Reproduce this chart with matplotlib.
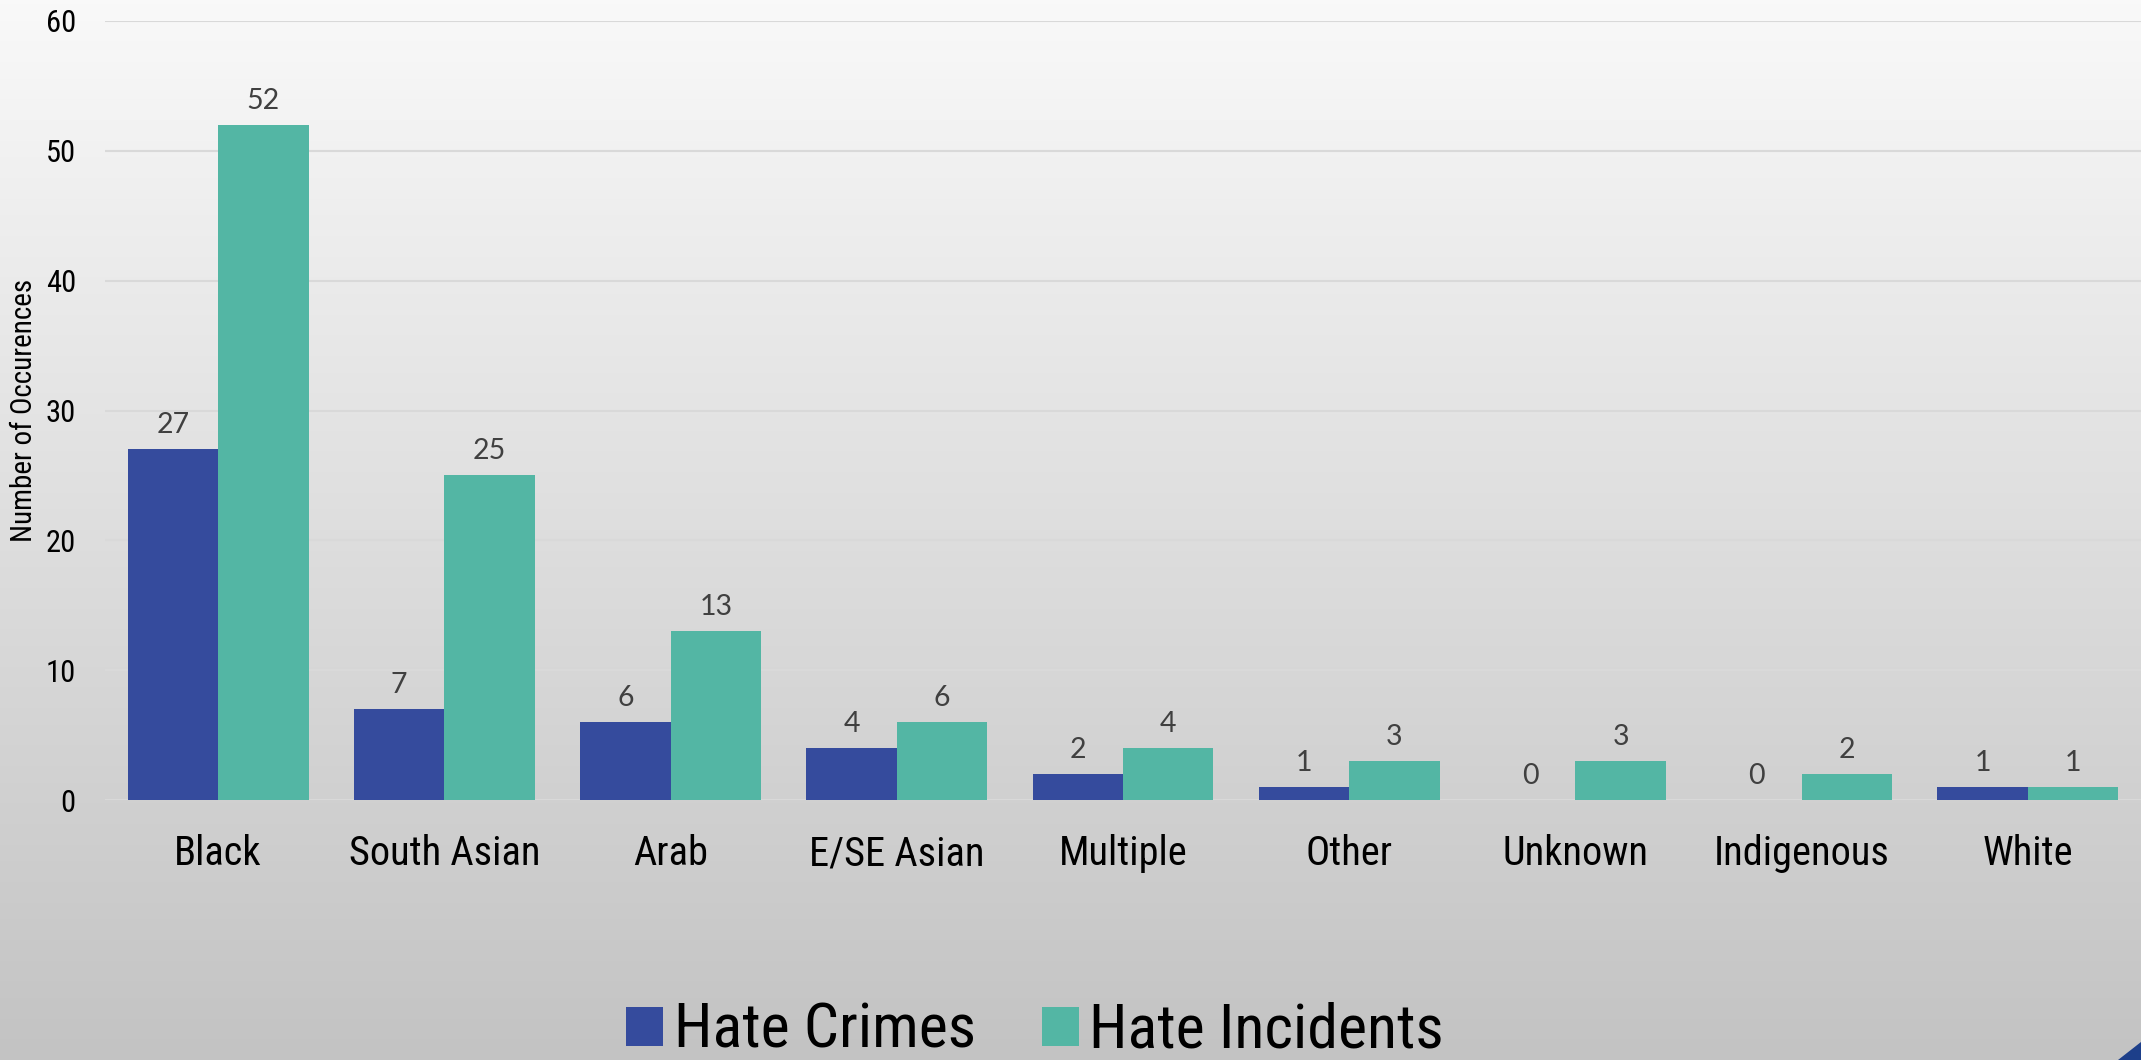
import numpy as np
import matplotlib
matplotlib.use("Agg")
import matplotlib.pyplot as plt
from matplotlib import font_manager
from matplotlib.patches import Polygon

categories = ["Black", "South Asian", "Arab", "E/SE Asian", "Multiple",
              "Other", "Unknown", "Indigenous", "White"]
hate_crimes = [27, 7, 6, 4, 2, 1, 0, 0, 1]
hate_incidents = [52, 25, 13, 6, 4, 3, 3, 2, 1]
series_names = ["Hate Crimes", "Hate Incidents"]
y_ticks = [0, 10, 20, 30, 40, 50, 60]
y_label = "Number of Occurences"

names = sorted({f.name for f in font_manager.fontManager.ttflist})
narrow = None
for cand in ["Liberation Sans Narrow", "Arial Narrow", "Roboto Condensed",
             "Open Sans Condensed", "Noto Sans Condensed"]:
    if cand in names:
        narrow = cand
        break
if narrow is None:
    narrow = "Liberation Sans"
    SF = 0.86
else:
    SF = 0.97
label_font = "Lato" if "Lato" in names else "DejaVu Sans"

C_BLUE = "#354B9D"
C_TEAL = "#53B6A4"

fig = plt.figure(figsize=(21.41, 10.60), dpi=100)

# background gradient
bg = fig.add_axes([0, 0, 1, 1], zorder=-10)
grad = np.linspace(249, 195, 256)[:, None] / 255.0
bg.imshow(np.dstack([grad, grad, grad]), aspect="auto", extent=[0, 1, 0, 1])
bg.set_xlim(0, 1); bg.set_ylim(0, 1)
bg.axis("off")

# corner decoration
fig.patches.append(Polygon([[2118 / 2141, 0], [1, 0], [1, 18 / 1060]],
                           closed=True, transform=fig.transFigure,
                           facecolor="#1d3f8a", edgecolor="none", zorder=5))

ax = fig.add_axes([105 / 2141, 1 - 800 / 1060, 1 - 105 / 2141, (800 - 21) / 1060])
ax.patch.set_alpha(0)

x = np.arange(len(categories))
w = 0.4
b1 = ax.bar(x - w / 2, hate_crimes, w, color=C_BLUE, label=series_names[0], zorder=3)
b2 = ax.bar(x + w / 2, hate_incidents, w, color=C_TEAL, label=series_names[1], zorder=3)

for bars, vals in ((b1, hate_crimes), (b2, hate_incidents)):
    for r, v in zip(bars, vals):
        ax.annotate(str(v), (r.get_x() + r.get_width() / 2, v),
                    xytext=(0, 8), textcoords="offset points",
                    ha="center", va="bottom", fontsize=20.5,
                    color="#404040", family=label_font)

ax.set_xlim(-0.5, len(categories) - 0.5)
ax.set_ylim(0, 60)
ax.set_yticks(y_ticks)
ax.set_xticks(x)
ax.set_xticklabels(categories, family=narrow, fontsize=30 * SF)
for t in ax.get_yticklabels():
    t.set_family(narrow)
    t.set_fontsize(22)
ax.tick_params(axis="both", length=0)
ax.tick_params(axis="x", pad=24.5)
ax.tick_params(axis="y", pad=21)
ax.yaxis.grid(True, color="#d9d9d9", linewidth=1.5, zorder=0)
ax.set_axisbelow(True)
for s in ax.spines.values():
    s.set_visible(False)

ax.set_ylabel(y_label, family=narrow, fontsize=21)
ax.yaxis.set_label_coords((38 - 105) / (2141 - 105), 0.5)

leg = fig.legend(handles=[b1, b2], labels=series_names, loc="center",
                 bbox_to_anchor=(1035 / 2141, 1 - 1031 / 1060), ncol=2,
                 frameon=False, prop={"family": narrow, "size": 46 * SF},
                 handlelength=0.58 / SF, handleheight=0.58 / SF,
                 handletextpad=0.17, columnspacing=1.06, borderpad=0)

fig.savefig("out.png", dpi=100)
